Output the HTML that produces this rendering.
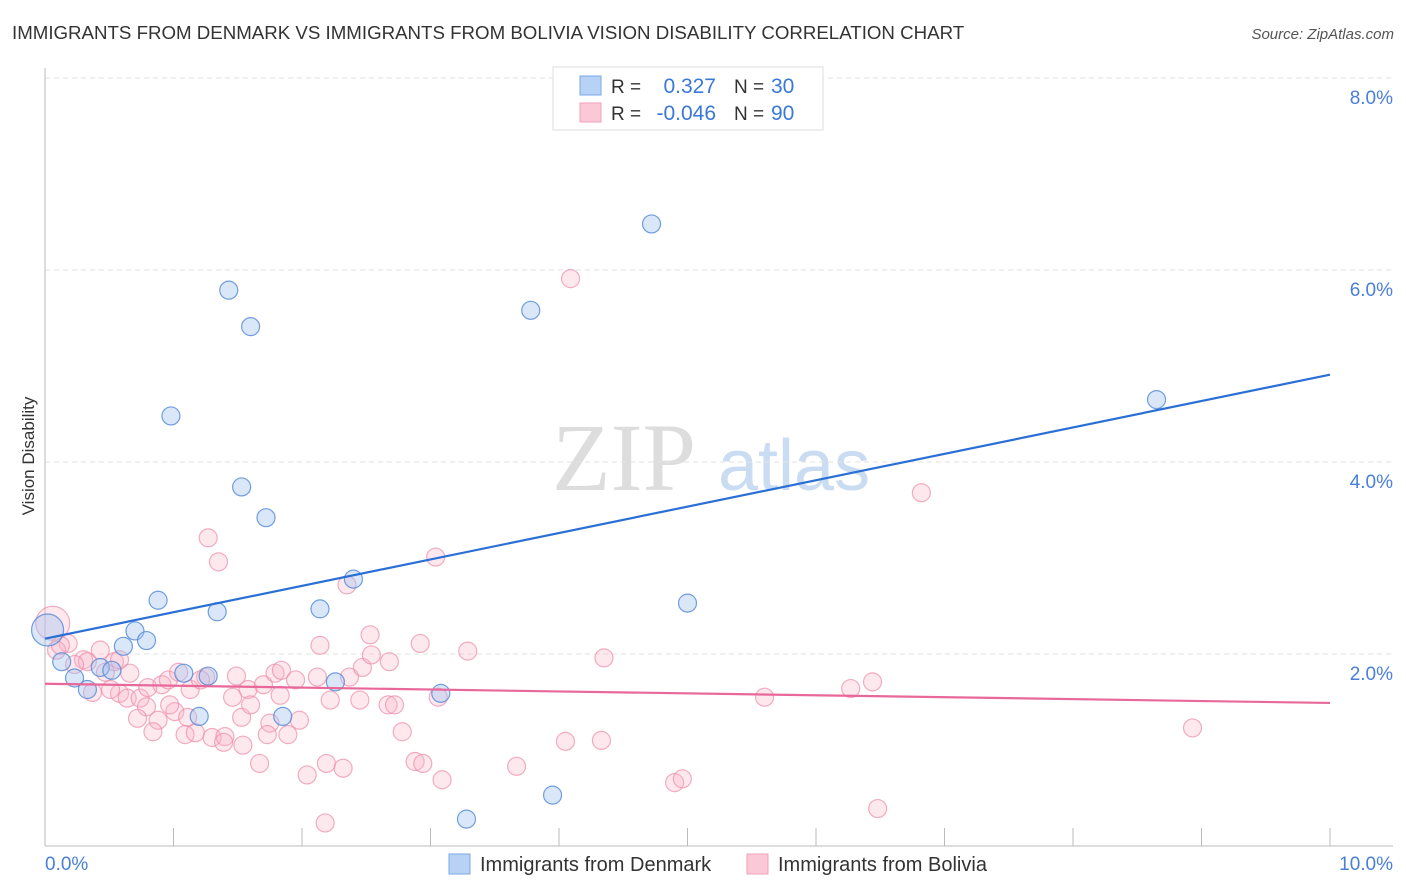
<!DOCTYPE html>
<html><head><meta charset="utf-8"><style>
body{margin:0;background:#fff;font-family:"Liberation Sans",sans-serif;}
svg{display:block}
</style></head><body>
<svg id="chart" width="1406" height="892" xmlns="http://www.w3.org/2000/svg" font-family="Liberation Sans, sans-serif">
<text x="12" y="39" font-size="18.7" fill="#333">IMMIGRANTS FROM DENMARK VS IMMIGRANTS FROM BOLIVIA VISION DISABILITY CORRELATION CHART</text>
<text x="1394" y="39" font-size="15" fill="#555" text-anchor="end" font-style="italic">Source: ZipAtlas.com</text>
<text transform="translate(34,456) rotate(-90)" font-size="17" fill="#333" text-anchor="middle">Vision Disability</text>
<g>
<text x="552" y="490" font-size="96" fill="#ddd" font-family="Liberation Serif, serif">ZIP</text>
<text x="718" y="490" font-size="72" fill="#c9dcf2">atlas</text>
</g>
<g id="grid"></g>
<g id="axes"></g>
<g id="pts"></g>
<g id="lines"></g>
<g>
<rect x="553" y="67" width="270" height="63" fill="#fff" stroke="#ddd"/>
<rect x="580" y="76" width="21" height="19" fill="#b8d2f5" stroke="#7aa8e8"/>
<rect x="580" y="103" width="21" height="19" fill="#fac8d6" stroke="#f0a0b8"/>
<text x="611" y="93" font-size="19" fill="#333">R =</text>
<text x="716" y="93" font-size="21" fill="#3a78d8" text-anchor="end">0.327</text>
<text x="734" y="93" font-size="19" fill="#333">N =</text>
<text x="771" y="93" font-size="21" fill="#3a78d8">30</text>
<text x="611" y="120" font-size="19" fill="#333">R =</text>
<text x="716" y="120" font-size="21" fill="#3a78d8" text-anchor="end">-0.046</text>
<text x="734" y="120" font-size="19" fill="#333">N =</text>
<text x="771" y="120" font-size="21" fill="#3a78d8">90</text>
</g>
<g>
<rect x="449" y="854" width="21" height="20" fill="#b8d2f5" stroke="#7aa8e8"/>
<text x="480" y="871" font-size="20" fill="#333">Immigrants from Denmark</text>
<rect x="747" y="854" width="21" height="20" fill="#fac8d6" stroke="#f0a0b8"/>
<text x="778" y="871" font-size="20" fill="#333">Immigrants from Bolivia</text>
</g>
</svg>
<script>
const xTicks=[0,1,2,3,4,5,6,7,8,9,10];
const yTicks=[2,4,6,8];
const yTickLabels=["2.0%","4.0%","6.0%","8.0%"];
const xLabels=["0.0%","10.0%"];
const blueX=[0.02,0.13,0.23,0.33,0.43,0.52,0.61,0.70,0.79,0.88,0.98,1.08,1.27,1.20,1.34,1.43,1.53,1.60,1.72,1.85,2.14,2.26,2.40,3.08,3.28,3.78,3.95,4.72,5.00,8.65];
const blueY=[2.25,1.92,1.75,1.63,1.86,1.83,2.08,2.24,2.14,2.56,4.48,1.80,1.77,1.35,2.44,5.79,3.74,5.41,3.42,1.35,2.47,1.71,2.78,1.59,0.28,5.58,0.53,6.48,2.53,4.65];
const pinkX=[0.06,0.18,0.09,0.30,0.33,0.43,0.54,0.58,0.66,0.37,0.58,0.64,0.74,0.79,0.72,0.88,0.84,0.80,0.91,0.96,1.04,1.01,1.11,1.09,1.17,1.25,1.30,1.40,1.39,1.54,1.46,1.49,1.58,1.53,1.70,1.79,1.84,1.75,1.73,1.89,1.95,1.67,2.04,2.19,2.32,2.18,2.12,2.14,2.37,2.47,2.54,2.53,2.68,2.92,2.67,2.72,2.78,2.88,2.94,3.06,3.09,2.35,1.27,1.35,3.04,3.29,4.09,4.35,4.05,4.33,3.67,4.90,4.96,5.60,6.27,6.44,6.48,6.82,8.93,0.23,0.47,0.12,0.51,0.97,1.13,1.21,1.60,1.83,1.98,2.45,2.22];
const pinkY=[2.32,2.11,2.04,1.94,1.92,2.04,1.92,1.94,1.80,1.60,1.59,1.54,1.54,1.45,1.33,1.31,1.19,1.65,1.68,1.73,1.81,1.40,1.34,1.16,1.18,1.76,1.13,1.14,1.08,1.05,1.55,1.77,1.63,1.34,1.68,1.80,1.83,1.28,1.16,1.16,1.73,0.86,0.74,0.86,0.81,0.24,1.76,2.09,1.76,1.86,1.99,2.20,1.92,2.11,1.47,1.47,1.19,0.88,0.86,1.55,0.69,2.72,3.21,2.96,3.01,2.03,5.91,1.96,1.09,1.10,0.83,0.66,0.70,1.55,1.64,1.71,0.39,3.68,1.23,1.89,1.81,2.09,1.63,1.47,1.63,1.73,1.47,1.57,1.31,1.52,1.52];
const blueTrend=[2.16,4.91];
const pinkTrend=[1.69,1.49];
const NS="http://www.w3.org/2000/svg";
const X=v=>45+v*128.5, Y=v=>846-v*96;
function mk(t,a,p){const e=document.createElementNS(NS,t);for(const k in a)e.setAttribute(k,a[k]);p.appendChild(e);return e;}
const grid=document.getElementById('grid'),axes=document.getElementById('axes'),pts=document.getElementById('pts'),lines=document.getElementById('lines');
yTicks.forEach((v,i)=>{
 const g=mk('line',{x1:45,x2:1393,y1:Y(v),y2:Y(v),stroke:'#e2e2e2','stroke-dasharray':'5,4'},grid);
 
 
 const t=mk('text',{x:1393,y:Y(v)+26,'font-size':19,fill:'#4a7fd8','text-anchor':'end'},axes);
 t.textContent=yTickLabels[i];
 
 
});
const ax=mk('line',{x1:45,x2:1393,y1:846,y2:846,stroke:'#bbb'},axes);


const ay=mk('line',{x1:45,x2:45,y1:68,y2:846,stroke:'#bbb'},axes);


xTicks.forEach(v=>{
 const t=mk('line',{x1:X(v),x2:X(v),y1:828,y2:846,stroke:'#bbb'},axes);
 
 
});
const xl0=mk('text',{x:45,y:870,'font-size':19,fill:'#4a7fd8'},axes);xl0.textContent=xLabels[0];


const xl1=mk('text',{x:1393,y:870,'font-size':19,fill:'#4a7fd8','text-anchor':'end'},axes);xl1.textContent=xLabels[1];


pinkX.forEach((v,i)=>{
 const c=mk('circle',{cx:X(v),cy:Y(pinkY[i]),r:i==0?17:9,fill:'rgba(248,180,200,0.3)',stroke:'rgba(236,140,170,0.7)','stroke-width':1.2},pts);
 
 
});
blueX.forEach((v,i)=>{
 const c=mk('circle',{cx:X(v),cy:Y(blueY[i]),r:i==0?16:9,fill:'rgba(160,195,240,0.4)',stroke:'rgba(80,135,215,0.8)','stroke-width':1.2},pts);
 
 
});
const bl=mk('line',{x1:X(0),x2:X(10),y1:Y(blueTrend[0]),y2:Y(blueTrend[1]),stroke:'#2a6fd6','stroke-width':2.2},lines);


const pl=mk('line',{x1:X(0),x2:X(10),y1:Y(pinkTrend[0]),y2:Y(pinkTrend[1]),stroke:'#e8689a','stroke-width':2.2},lines);


</script>
</body></html>
